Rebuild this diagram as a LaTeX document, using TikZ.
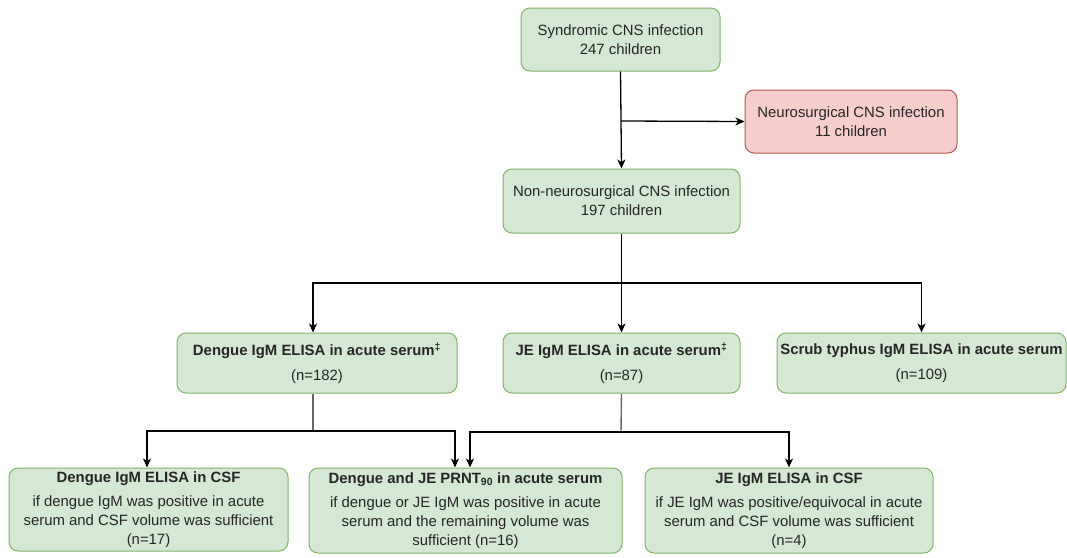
\documentclass[tikz,border=0pt]{standalone}
\usepackage{fontspec}
\setmainfont{Liberation Sans}
\usetikzlibrary{arrows.meta}
\definecolor{gfill}{HTML}{D5E8D4}
\definecolor{gline}{HTML}{82B366}
\definecolor{rfill}{HTML}{F8CECC}
\definecolor{rline}{HTML}{B85450}
\definecolor{txt}{HTML}{262626}
\definecolor{conn}{HTML}{666666}
\newcommand{\fsz}{\fontsize{14.9pt}{18.8pt}\selectfont}
\tikzset{
  box/.style={draw=gline, fill=gfill, rounded corners=9pt, line width=1pt, inner sep=0pt,
              align=center, font=\fsz, text=txt},
  redbox/.style={box, draw=rline, fill=rfill},
  arr/.style={draw=black, line width=1.3pt, -{Stealth[length=9pt,width=8pt,inset=2.5pt]}},
  gln/.style={draw=conn, line width=1.4pt},
}
\begin{document}
\begin{tikzpicture}[x=1pt,y=-1pt]
\useasboundingbox (0,0) rectangle (1067,557);
% top row
\node[box, minimum width=199pt, minimum height=63pt] (syn) at (620.5,39.5)
  {Syndromic CNS infection\\247 children};
\node[redbox, minimum width=212pt, minimum height=63pt] (neuro) at (851,121.5)
  {Neurosurgical CNS infection\\11 children};
\node[box, minimum width=237pt, minimum height=64pt] (non) at (621.5,201)
  {Non-neurosurgical CNS infection\\197 children};
% middle row
\node[box, minimum width=280pt, minimum height=60pt] (den) at (317,363)
  {\textbf{Dengue IgM ELISA in acute serum\textsuperscript{‡}}\\[6pt](n=182)};
\node[box, minimum width=237pt, minimum height=60pt] (je) at (621.5,363)
  {\textbf{JE IgM ELISA in acute serum\textsuperscript{‡}}\\[6pt](n=87)};
\node[box, minimum width=289pt, minimum height=60pt] (scrub) at (921.5,363)
  {\textbf{Scrub typhus IgM ELISA in acute serum}\\[6pt](n=109)};
% bottom row
\node[box, minimum width=279pt, minimum height=83pt] (dcsf) at (148.5,509.5)
  {\textbf{Dengue IgM ELISA in CSF}\\[5pt]if dengue IgM was positive in acute\\serum and CSF volume was sufficient\\(n=17)};
\node[box, minimum width=313pt, minimum height=85pt] (prnt) at (465.5,510.5)
  {\textbf{Dengue and JE PRNT\textsubscript{90} in acute serum}\\[5pt]if dengue or JE IgM was positive in acute\\serum and the remaining volume was\\sufficient (n=16)};
\node[box, minimum width=288pt, minimum height=85pt] (jcsf) at (789,510.5)
  {\textbf{JE IgM ELISA in CSF}\\[5pt]if JE IgM was positive/equivocal in acute\\serum and CSF volume was sufficient\\(n=4)};
% connectors top
\draw[arr] (syn.south) -- (non.north);
\coordinate (b1) at (621,121);
\draw[arr] (b1) -- (neuro.west);
\coordinate (hub) at (621,283);
\draw[arr] (non.south) -- (je.north);
\draw[arr] (hub) -| ([xshift=-4pt]den.north);
\draw[arr] (hub) -| (scrub.north);
% dengue split
\coordinate (dh) at (313,431);
\draw[gln] ([xshift=-4pt]den.south) -- (dh);
\draw[arr] (dh) -| ([xshift=-1.5pt]dcsf.north);
\draw[arr] (dh) -| ([xshift=-10.5pt]prnt.north);
% JE split
\coordinate (jh) at (621,432);
\draw[gln] (je.south) -- (jh);
\draw[arr] (jh) -| ([xshift=4.5pt]prnt.north);
\draw[arr] (jh) -| (jcsf.north);
\end{tikzpicture}
\end{document}
